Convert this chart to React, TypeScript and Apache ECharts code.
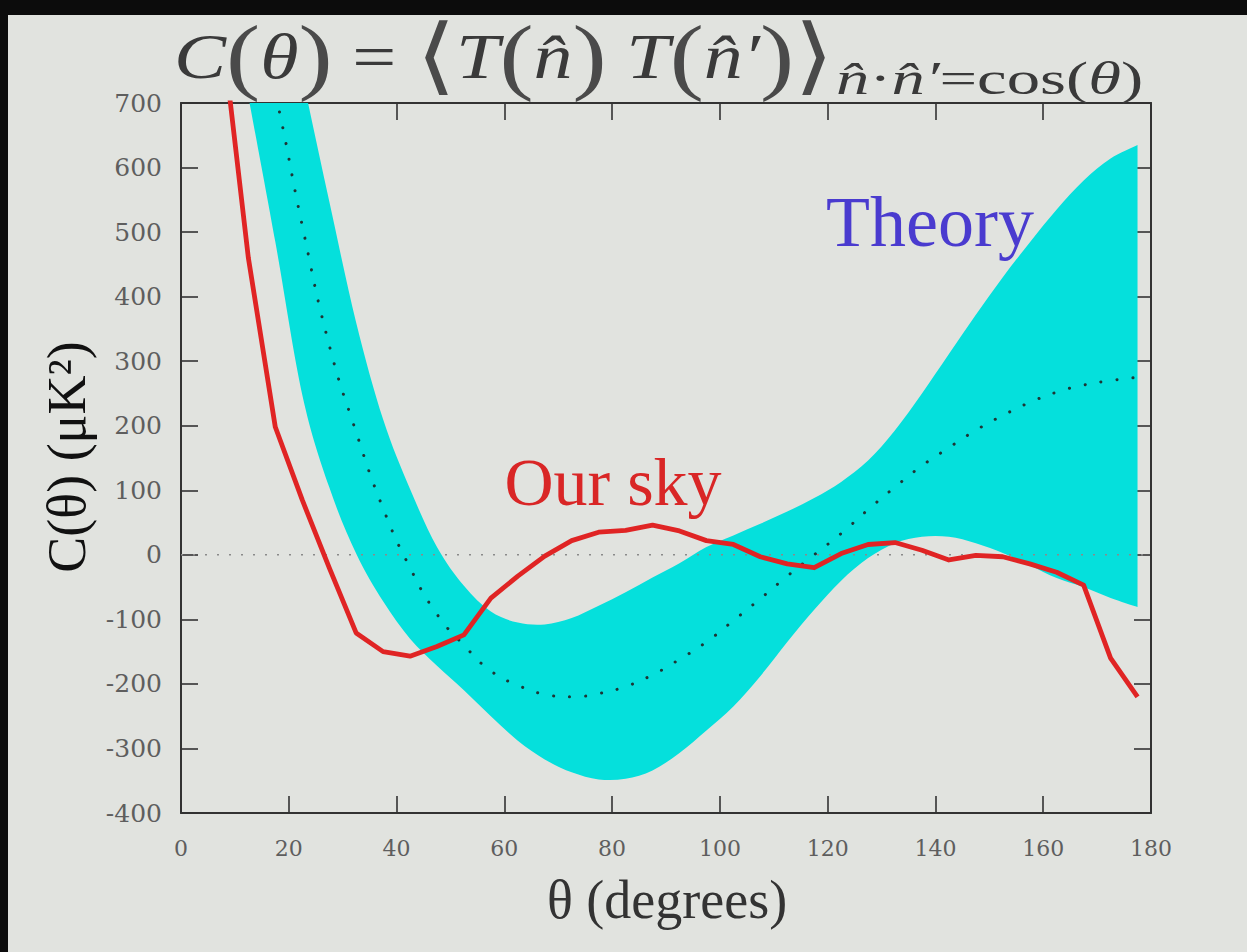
import React, { useEffect, useRef } from "react";
import * as echarts from "echarts";

// Angular correlation of the CMB sky: measured C(θ) against the theory band.
const thetaSky = [
  7.5, 12.5, 17.5, 22.5, 27.5, 32.5, 37.5, 42.5, 47.5, 52.5, 57.5, 62.5,
  67.5, 72.5, 77.5, 82.5, 87.5, 92.5, 97.5, 102.5, 107.5, 112.5, 117.5,
  122.5, 127.5, 132.5, 137.5, 142.5, 147.5, 152.5, 157.5, 162.5, 167.5,
  172.5, 177.5,
];
const ourSky = [
  820, 460, 198, 85, -20, -121, -150, -157, -142, -124, -67, -33, -2, 22,
  35, 38, 46, 37, 22, 16, -3, -14, -20, 2, 16, 19, 7, -8, -1, -3, -14, -27,
  -47, -160, -220,
];

const thetaTheory = [
  12.5, 17.5, 22.5, 27.5, 32.5, 37.5, 42.5, 47.5, 52.5, 57.5, 62.5, 67.5,
  72.5, 77.5, 82.5, 87.5, 92.5, 97.5, 102.5, 107.5, 112.5, 117.5, 122.5,
  127.5, 132.5, 137.5, 142.5, 147.5, 152.5, 157.5, 162.5, 167.5, 172.5,
  177.5,
];
const theoryLower = [
  710, 485, 248, 105, 2, -72, -130, -172, -210, -250, -288, -317, -337,
  -348, -347, -334, -307, -272, -235, -188, -135, -85, -40, -5, 18, 28, 28,
  18, 3, -16, -36, -50, -67, -81,
];
const theoryUpper = [
  1130, 935, 742, 548, 360, 210, 102, 12, -48, -88, -105, -108, -98, -79,
  -58, -35, -13, 12, 30, 48, 67, 88, 113, 146, 193, 250, 311, 372, 430, 484,
  535, 580, 614, 635,
];
const theoryMean = [
  880, 715, 510, 325, 190, 72, -20, -92, -140, -180, -202, -216, -220, -215,
  -204, -186, -162, -135, -102, -68, -33, 0, 33, 70, 105, 138, 166, 193, 216,
  236, 252, 263, 270, 275,
];

const zeroLine = [
  [0, 0],
  [180, 0],
];

const SERIF = "Liberation Serif";
const TICK_FONT = "DejaVu Serif";
const FRAME = "#333333";
const PAPER = "#e1e3df";
const CYAN = "#05e0dc";
const RED = "#e02424";

const pairs = (xs: number[], ys: number[]) => xs.map((x, i) => [x, ys[i]]);

// Catmull-Rom curve through pixel points, written as cubic Bezier segments.
function splinePath(pts: number[][], start: "M" | "L"): string {
  let d = `${start}${pts[0][0]},${pts[0][1]}`;
  for (let i = 0; i < pts.length - 1; i++) {
    const p0 = pts[Math.max(i - 1, 0)];
    const p1 = pts[i];
    const p2 = pts[i + 1];
    const p3 = pts[Math.min(i + 2, pts.length - 1)];
    const c1x = p1[0] + (p2[0] - p0[0]) / 6;
    const c1y = p1[1] + (p2[1] - p0[1]) / 6;
    const c2x = p2[0] - (p3[0] - p1[0]) / 6;
    const c2y = p2[1] - (p3[1] - p1[1]) / 6;
    d += ` C${c1x},${c1y} ${c2x},${c2y} ${p2[0]},${p2[1]}`;
  }
  return d;
}

const axisCommon = {
  type: "value" as const,
  axisLine: { show: true, onZero: false, lineStyle: { color: FRAME, width: 2 } },
  axisTick: { show: true, inside: true, length: 17, lineStyle: { color: FRAME, width: 1.6 } },
  splitLine: { show: false },
};

export default function App() {
  const ref = useRef<HTMLDivElement>(null);

  useEffect(() => {
    const chart = echarts.init(ref.current!, null, { renderer: "svg" });

    const ink = "#3a3a3a";
    const titleRich = {
      i: { fontFamily: SERIF, fontStyle: "italic", fontSize: 64, fill: ink },
      r: { fontFamily: SERIF, fontSize: 64, fill: ink },
      p: { fontFamily: SERIF, fontSize: 84, fill: "#4a4a4a" },
    };
    const subRich = {
      i: { fontFamily: SERIF, fontStyle: "italic", fontSize: 46, fill: ink },
      r: { fontFamily: SERIF, fontSize: 46, fill: ink },
    };

    // Theory band drawn as one closed shape between the two bounds.
    const renderBand = (params: any, api: any) => {
      const up = thetaTheory.map((t, i) => api.coord([t, theoryUpper[i]]));
      const lo = thetaTheory.map((t, i) => api.coord([t, theoryLower[i]]));
      const d = splinePath(up, "M") + " " + splinePath(lo.slice().reverse(), "L") + " Z";
      const cs = params.coordSys;
      return {
        type: "path",
        shape: { pathData: d },
        style: { fill: CYAN, stroke: null },
        clipPath: {
          type: "rect",
          shape: { x: cs.x, y: cs.y, width: cs.width, height: cs.height },
        },
      };
    };

    chart.setOption({
      animation: false,
      backgroundColor: PAPER,
      grid: { left: 181, right: 96, top: 103, bottom: 139 },
      xAxis: [
        {
          ...axisCommon,
          position: "bottom",
          min: 0,
          max: 180,
          interval: 20,
          axisLabel: {
            margin: 24,
            fontFamily: TICK_FONT,
            fontSize: 22,
            color: "#5e5e5e",
          },
        },
        {
          ...axisCommon,
          position: "top",
          min: 0,
          max: 180,
          interval: 20,
          axisLabel: { show: false },
        },
      ],
      yAxis: [
        {
          ...axisCommon,
          position: "left",
          min: -400,
          max: 700,
          interval: 100,
          axisLabel: {
            margin: 19,
            fontFamily: TICK_FONT,
            fontSize: 25,
            color: "#5e5e5e",
          },
        },
        {
          ...axisCommon,
          position: "right",
          min: -400,
          max: 700,
          interval: 100,
          axisLabel: { show: false },
        },
      ],
      series: [
        {
          name: "Theory",
          type: "custom",
          data: [[thetaTheory[0], theoryLower[0]]],
          renderItem: renderBand,
          silent: true,
          z: 1,
        },
        {
          name: "zero",
          type: "line",
          data: zeroLine,
          symbol: "none",
          silent: true,
          z: 2,
          lineStyle: { color: "#8a8a8a", width: 1.5, type: [2, 10] },
        },
        {
          name: "theoryMean",
          type: "line",
          data: pairs(thetaTheory, theoryMean),
          smooth: true,
          symbol: "none",
          silent: true,
          z: 3,
          lineStyle: { color: "#1d3535", width: 3, type: [0.1, 16], cap: "round" },
        },
        {
          name: "Our sky",
          type: "line",
          data: pairs(thetaSky, ourSky),
          symbol: "none",
          silent: true,
          z: 4,
          lineStyle: { color: RED, width: 4.8, join: "round" },
        },
      ],
      graphic: [
        { type: "rect", left: 0, top: 0, shape: { width: 1247, height: 15 }, style: { fill: "#0c0c0c" }, z: 100 },
        { type: "rect", left: 0, top: 0, shape: { width: 8, height: 952 }, style: { fill: "#0c0c0c" }, z: 100 },
        {
          type: "text",
          x: 174,
          y: 56,
          scaleX: 1.22,
          z: 100,
          style: {
            text: "{i|C}{p|(}{i|θ}{p|)}{r| = }{p|⟨}{i|T}{p|(}{i|n̂}{p|)}{i| T}{p|(}{i|n̂′}{p|)}{p|⟩}",
            rich: titleRich,
            align: "left",
            verticalAlign: "middle",
          },
        },
        {
          type: "text",
          x: 836,
          y: 78,
          scaleX: 1.45,
          z: 100,
          style: {
            text: "{i|n̂}{r|·}{i|n̂′}{r|=cos(}{i|θ}{r|)}",
            rich: subRich,
            align: "left",
            verticalAlign: "middle",
          },
        },
        {
          type: "text",
          x: 67,
          y: 457,
          rotation: Math.PI / 2,
          z: 100,
          style: {
            text: "C(θ) (μK²)",
            fontFamily: SERIF,
            fontSize: 54,
            fill: "#111111",
            align: "center",
            verticalAlign: "middle",
          },
        },
        {
          type: "text",
          x: 667,
          y: 900,
          z: 100,
          style: {
            text: "θ (degrees)",
            fontFamily: SERIF,
            fontSize: 54,
            fill: "#333333",
            align: "center",
            verticalAlign: "middle",
          },
        },
        {
          type: "text",
          x: 930,
          y: 222,
          z: 100,
          style: {
            text: "Theory",
            fontFamily: SERIF,
            fontSize: 72,
            fill: "#4a3bcf",
            align: "center",
            verticalAlign: "middle",
          },
        },
        {
          type: "text",
          x: 613,
          y: 482,
          z: 100,
          style: {
            text: "Our sky",
            fontFamily: SERIF,
            fontSize: 68,
            fill: "#d92626",
            align: "center",
            verticalAlign: "middle",
          },
        },
      ],
    });

    return () => chart.dispose();
  }, []);

  return (
    <div
      ref={ref}
      style={{ position: "fixed", left: 0, top: 0, width: 1247, height: 952 }}
    />
  );
}
